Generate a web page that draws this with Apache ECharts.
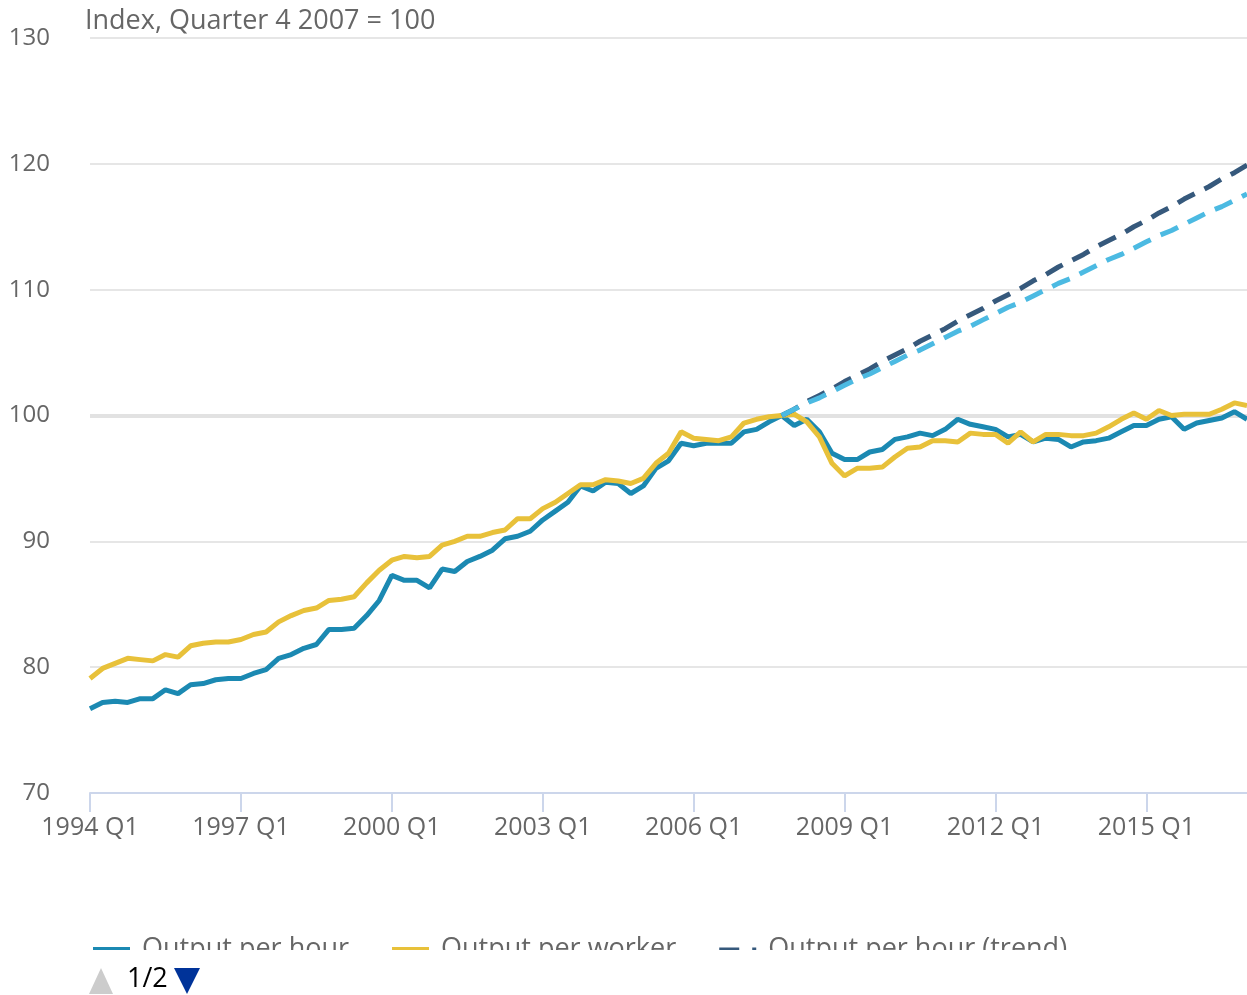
<!DOCTYPE html>
<html>
<head>
<meta charset="utf-8">
<script src="https://cdn.jsdelivr.net/npm/echarts@6/dist/echarts.min.js"></script>
<style>
  html, body { margin: 0; padding: 0; background: #fff; }
  #chart { width: 1247px; height: 995px; }
</style>
</head>
<body>
<div id="chart"></div>
<script>
// quarters 1994 Q1 .. 2017 Q1
const quarters = [];
for (let y = 1994; y <= 2017; y++) {
  for (let q = 1; q <= 4; q++) {
    if (y === 2017 && q > 1) break;
    quarters.push(y + ' Q' + q);
  }
}

const outputPerHour = [
  76.7, 77.2, 77.3, 77.2, 77.5, 77.5, 78.2, 77.9, 78.6, 78.7,
  79.0, 79.1, 79.1, 79.5, 79.8, 80.7, 81.0, 81.5, 81.8, 83.0,
  83.0, 83.1, 84.1, 85.3, 87.3, 86.9, 86.9, 86.3, 87.8, 87.6,
  88.4, 88.8, 89.3, 90.2, 90.4, 90.8, 91.7, 92.4, 93.1, 94.4,
  94.0, 94.7, 94.6, 93.8, 94.4, 95.8, 96.4, 97.8, 97.6, 97.8,
  97.8, 97.8, 98.7, 98.9, 99.5, 100.0, 99.2, 99.7, 98.7, 97.0,
  96.5, 96.5, 97.1, 97.3, 98.1, 98.3, 98.6, 98.4, 98.9, 99.7,
  99.3, 99.1, 98.9, 98.3, 98.5, 97.9, 98.2, 98.1, 97.5, 97.9,
  98.0, 98.2, 98.7, 99.2, 99.2, 99.7, 99.9, 98.9, 99.4, 99.6,
  99.8, 100.3, 99.7
];

const outputPerWorker = [
  79.1, 79.9, 80.3, 80.7, 80.6, 80.5, 81.0, 80.8, 81.7, 81.9,
  82.0, 82.0, 82.2, 82.6, 82.8, 83.6, 84.1, 84.5, 84.7, 85.3,
  85.4, 85.6, 86.7, 87.7, 88.5, 88.8, 88.7, 88.8, 89.7, 90.0,
  90.4, 90.4, 90.7, 90.9, 91.8, 91.8, 92.6, 93.1, 93.8, 94.5,
  94.5, 94.9, 94.8, 94.6, 95.0, 96.2, 97.0, 98.7, 98.2, 98.1,
  98.0, 98.3, 99.4, 99.7, 99.9, 100.0, 100.1, 99.5, 98.3, 96.2,
  95.2, 95.8, 95.8, 95.9, 96.7, 97.4, 97.5, 98.0, 98.0, 97.9,
  98.6, 98.5, 98.5, 97.8, 98.7, 97.9, 98.5, 98.5, 98.4, 98.4,
  98.6, 99.1, 99.7, 100.2, 99.7, 100.4, 100.0, 100.1, 100.1, 100.1,
  100.5, 101.0, 100.8
];

// trends start at 2007 Q4 (index 55)
const trendStart = 55;
const hourTrend = [
  100.0, 100.5, 101.1, 101.6, 102.1, 102.7, 103.2, 103.7, 104.3, 104.8,
  105.3, 105.9, 106.4, 106.9, 107.5, 108.0, 108.5, 109.1, 109.6, 110.1,
  110.7, 111.2, 111.8, 112.3, 112.8, 113.4, 113.9, 114.4, 115.0, 115.5,
  116.1, 116.6, 117.2, 117.7, 118.2, 118.8, 119.3, 119.9
];
const workerTrend = [
  100.0, 100.5, 101.0, 101.4, 101.9, 102.4, 102.9, 103.3, 103.8, 104.3,
  104.8, 105.2, 105.7, 106.2, 106.7, 107.1, 107.6, 108.1, 108.6, 109.0,
  109.5, 110.0, 110.5, 110.9, 111.4, 111.9, 112.4, 112.8, 113.3, 113.8,
  114.3, 114.7, 115.2, 115.7, 116.2, 116.6, 117.1, 117.6
];

const yTicks = [70, 80, 90, 100, 110, 120, 130];

function pad(arr) {
  return new Array(trendStart).fill(null).concat(arr);
}

const font = '"Open Sans", "Noto Sans", sans-serif';
const lw = 5;
const chart = echarts.init(document.getElementById('chart'));

chart.setOption({
  animation: false,
  textStyle: { fontFamily: font },
  title: {
    text: 'Index, Quarter 4 2007 = 100',
    left: 80,
    top: 3,
    textStyle: { fontSize: 27, fontWeight: 'normal', color: '#666666', fontFamily: font }
  },
  grid: { left: 90, right: 0, top: 38, bottom: 202 },
  legend: {
    left: 88,
    top: 931,
    itemWidth: 37,
    itemHeight: 5,
    itemGap: 43,
    textStyle: { fontSize: 27, color: '#666666', fontFamily: font, padding: [0, 0, 0, 7] },
    data: [
      { name: 'Output per hour', icon: 'rect' },
      { name: 'Output per worker', icon: 'rect' },
      { name: 'Output per hour (trend)', icon: 'path://M0,0h20v4H0z M33,0h4v4h-4z' }
    ]
  },
  xAxis: {
    type: 'category',
    boundaryGap: false,
    data: quarters,
    axisLine: { lineStyle: { color: '#ccd6eb', width: 2 } },
    axisTick: { interval: 11, length: 19, lineStyle: { color: '#ccd6eb', width: 2 } },
    axisLabel: { interval: 11, fontSize: 25, color: '#666666', margin: 22, fontFamily: font },
    splitLine: { show: false }
  },
  yAxis: {
    type: 'value',
    min: yTicks[0],
    max: yTicks[yTicks.length - 1],
    interval: 10,
    axisLine: { show: false },
    axisTick: { show: false },
    axisLabel: { fontSize: 24, color: '#666666', margin: 40, fontFamily: font, padding: [4, 0, 0, 0] },
    splitLine: { lineStyle: { color: '#e6e6e6', width: 2 } }
  },
  series: [
    {
      name: 'Output per hour',
      type: 'line',
      data: outputPerHour,
      symbol: 'none',
      lineStyle: { color: '#1b89b2', width: lw },
      itemStyle: { color: '#1b89b2' },
      markLine: {
        silent: true,
        symbol: 'none',
        z: 1,
        label: { show: false },
        lineStyle: { color: '#e2e2e2', width: 4, type: 'solid' },
        data: [{ yAxis: 100 }]
      }
    },
    {
      name: 'Output per worker',
      type: 'line',
      data: outputPerWorker,
      symbol: 'none',
      lineStyle: { color: '#e8c13a', width: lw },
      itemStyle: { color: '#e8c13a' }
    },
    {
      name: 'Output per hour (trend)',
      type: 'line',
      data: pad(hourTrend),
      symbol: 'none',
      lineStyle: { color: '#36597c', width: lw, type: [19, 11] },
      itemStyle: { color: '#36597c' }
    },
    {
      name: 'Output per worker (trend)',
      type: 'line',
      data: pad(workerTrend),
      symbol: 'none',
      lineStyle: { color: '#4cbae2', width: lw, type: [19, 11] },
      itemStyle: { color: '#4cbae2' }
    }
  ],
  graphic: [
    // clip the lower half of the legend row
    { type: 'rect', z: 100, shape: { x: 60, y: 950, width: 1187, height: 14 }, style: { fill: '#ffffff' } },
    // pager
    { type: 'polygon', z: 100, shape: { points: [[101, 968], [89, 994], [113, 994]] }, style: { fill: '#cccccc' } },
    { type: 'text', z: 100, left: 127, top: 966, style: { text: '1/2', fontSize: 27, fill: '#000000', fontFamily: font } },
    { type: 'polygon', z: 100, shape: { points: [[174, 968], [200, 968], [187, 994]] }, style: { fill: '#003399' } }
  ]
});
</script>
</body>
</html>
